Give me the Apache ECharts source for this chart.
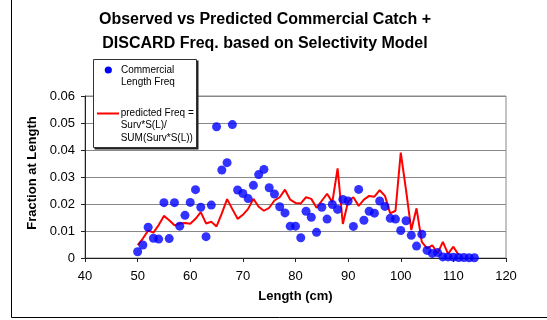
<!DOCTYPE html>
<html>
<head>
<meta charset="utf-8">
<script src="https://cdn.jsdelivr.net/npm/echarts@6/dist/echarts.min.js"></script>
<style>
  html, body { margin: 0; padding: 0; background: #fff; }
  #chart { width: 547px; height: 320px; }
</style>
</head>
<body>
<div id="chart"></div>
<script>
// Observed commercial length frequencies (length in cm, fraction at length)
var obsLengths = [50,51,52,53,54,55,56,57,58,59,60,61,62,63,64,65,66,67,68,69,
  70,71,72,73,74,75,76,77,78,79,80,81,82,83,84,85,86,87,88,89,
  90,91,92,93,94,95,96,97,98,99,100,101,102,103,104,105,106,107,108,109,
  110,111,112,113,114];
var obsFreq = [0.0023,0.0048,0.0114,0.0073,0.0070,0.0205,0.0072,0.0205,0.0118,0.0158,
  0.0206,0.0253,0.0188,0.0079,0.0196,0.0486,0.0326,0.0353,0.0494,0.0252,
  0.0239,0.0220,0.0269,0.0309,0.0328,0.0260,0.0237,0.0190,0.0167,0.0118,
  0.0118,0.0075,0.0173,0.0151,0.0095,0.0188,0.0144,0.0198,0.0180,0.0217,
  0.0211,0.0117,0.0254,0.0140,0.0173,0.0166,0.0211,0.0191,0.0147,0.0144,
  0.0102,0.0138,0.0084,0.0044,0.0088,0.0028,0.0017,0.0020,0.0004,0.0004,
  0.0003,0.0002,0.0002,0.0001,0.0001];

// Predicted frequencies from the selectivity model
var predLengths = [50,51,52,53,54,55,56,57,58,59,60,61,62,63,64,65,66,67,68,69,
  70,71,72,73,74,75,76,77,78,79,80,81,82,83,84,85,86,87,88,89,
  90,91,92,93,94,95,96,97,98,99,100,101,102,103,104,105,106,107,108,109,
  110,111];
var predFreq = [0.0048,0.0072,0.0102,0.0094,0.0122,0.0156,0.0140,0.0121,0.0128,0.0130,
  0.0127,0.0145,0.0170,0.0128,0.0134,0.0117,0.0165,0.0218,0.0181,0.0145,
  0.0160,0.0182,0.0219,0.0190,0.0175,0.0186,0.0213,0.0225,0.0253,0.0216,
  0.0204,0.0202,0.0225,0.0219,0.0186,0.0212,0.0238,0.0207,0.0332,0.0126,
  0.0210,0.0225,0.0193,0.0216,0.0230,0.0227,0.0251,0.0230,0.0165,0.0175,
  0.0390,0.0252,0.0104,0.0184,0.0060,0.0036,0.0047,0.0017,0.0060,0.0015,
  0.0042,0.0011];

// Axis ticks
var xTicks = [40, 50, 60, 70, 80, 90, 100, 110, 120];
var yTicks = [0, 0.01, 0.02, 0.03, 0.04, 0.05, 0.06];

var obsName = 'Commercial\nLength Freq';
var predName = 'predicted Freq =\nSurv*S(L)/\nSUM(Surv*S(L))';

function pairs(xs, ys) {
  return xs.map(function (x, i) { return [x, ys[i]]; });
}

var FONT = 'Liberation Sans, Arial, sans-serif';
var LZ = 100; // legend drawn above the plot
var chart = echarts.init(document.getElementById('chart'), null, { renderer: 'canvas' });

chart.setOption({
  backgroundColor: '#fff',
  animation: false,
  textStyle: { fontFamily: FONT },
  title: {
    text: 'Observed vs Predicted Commercial Catch +\nDISCARD Freq. based on Selectivity Model',
    left: 265,
    top: 8,
    textAlign: 'center',
    padding: 0,
    textStyle: { fontFamily: FONT, fontSize: 16, fontWeight: 'bold', color: '#000', lineHeight: 24 }
  },
  grid: {
    left: 85, right: 41, top: 96, bottom: 62,
    show: true, borderColor: '#888', borderWidth: 1, backgroundColor: '#fff'
  },
  xAxis: {
    type: 'value',
    min: xTicks[0], max: xTicks[xTicks.length - 1], interval: 10,
    name: 'Length (cm)', nameLocation: 'middle', nameGap: 32,
    nameTextStyle: { fontFamily: FONT, fontSize: 13, fontWeight: 'bold', color: '#000' },
    axisLine: { lineStyle: { color: '#222', width: 1 } },
    axisTick: { show: true, inside: false, length: 4, lineStyle: { color: '#222' } },
    axisLabel: { fontFamily: FONT, fontSize: 13, color: '#000', margin: 12 },
    splitLine: { show: false }
  },
  yAxis: {
    type: 'value',
    min: yTicks[0], max: yTicks[yTicks.length - 1], interval: 0.01,
    name: 'Fraction at Length', nameLocation: 'middle', nameGap: 40,
    nameTextStyle: { fontFamily: FONT, fontSize: 13, fontWeight: 'bold', color: '#000', padding: [0, 0, 0, 8] },
    axisLine: { show: true, lineStyle: { color: '#222', width: 1 } },
    axisTick: { show: true, inside: false, length: 4, lineStyle: { color: '#222' } },
    axisLabel: {
      fontFamily: FONT, fontSize: 13, color: '#000', margin: 10,
      formatter: function (v) { return String(+v.toFixed(2)); }
    },
    splitLine: { show: true, lineStyle: { color: '#888', width: 1 } }
  },
  series: [
    {
      name: predName,
      type: 'line',
      data: pairs(predLengths, predFreq),
      showSymbol: false,
      symbol: 'none',
      lineStyle: { color: '#ff0000', width: 2 },
      itemStyle: { color: '#ff0000' },
      z: 2
    },
    {
      name: obsName,
      type: 'scatter',
      data: pairs(obsLengths, obsFreq),
      symbol: 'circle',
      symbolSize: 9,
      itemStyle: { color: '#0000ff' },
      z: 3
    }
  ],
  graphic: [
    // chart area frame (left and bottom edges visible)
    {
      type: 'polyline', silent: true, z: 1,
      shape: { points: [[11.5, 0], [11.5, 317.5], [547, 317.5]] },
      style: { stroke: '#000', lineWidth: 1, fill: null }
    },
    // legend box
    {
      type: 'group', left: 93, top: 59, z: LZ,
      children: [
        { type: 'rect', z: LZ, shape: { x: 1.5, y: 1.5, width: 104, height: 89 }, style: { fill: '#222' } },
        { type: 'rect', z: LZ, shape: { x: 0.5, y: 0.5, width: 103, height: 88 },
          style: { fill: '#fff', stroke: '#333', lineWidth: 1 } },
        { type: 'circle', z: LZ, shape: { cx: 15.3, cy: 11, r: 3.6 }, style: { fill: '#0000ff' } },
        { type: 'text', z: LZ, x: 28, y: 4.6,
          style: { text: obsName, font: '10px ' + FONT, fill: '#000', lineHeight: 12.3, verticalAlign: 'top' } },
        { type: 'line', z: LZ, shape: { x1: 4, y1: 54.5, x2: 26, y2: 54.5 },
          style: { stroke: '#ff0000', lineWidth: 2 } },
        { type: 'text', z: LZ, x: 27.7, y: 47.5,
          style: { text: predName, font: '10px ' + FONT, fill: '#000', lineHeight: 12.5, verticalAlign: 'top' } }
      ]
    }
  ]
});
</script>
</body>
</html>
